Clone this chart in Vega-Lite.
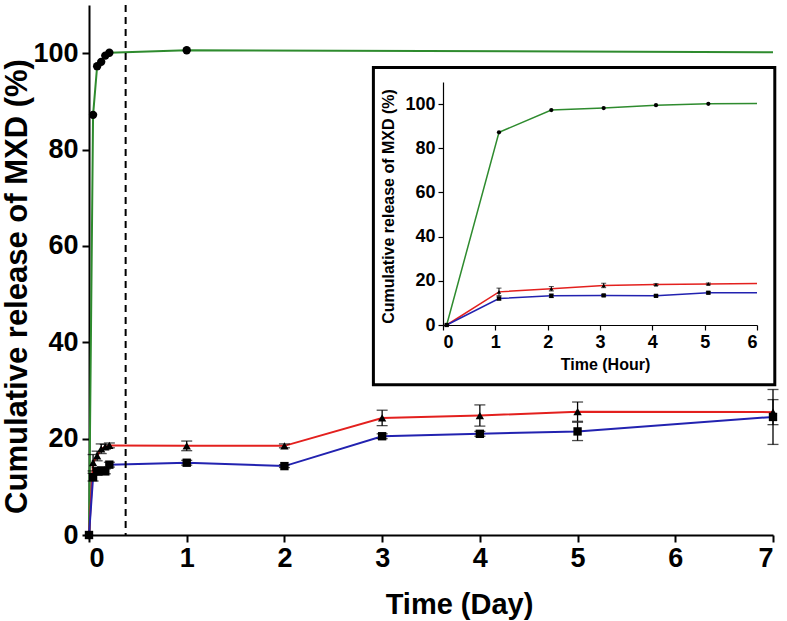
{
  "$schema": "https://vega.github.io/schema/vega-lite/v6.json",
  "width": 684,
  "height": 530,
  "autosize": {"type": "none"},
  "padding": {"left": 89, "top": 5, "right": 14, "bottom": 86},
  "background": "white",
  "config": {
    "view": {"stroke": null},
    "font": "Liberation Sans",
    "axis": {"grid": false, "domainColor": "black", "tickColor": "black", "labelColor": "black", "titleColor": "black", "labelFontWeight": "bold", "titleFontWeight": "bold", "format": "d"}
  },
  "datasets": {
    "main": [
      {"series": "green", "day": 0, "value": 0},
      {"series": "green", "day": 0.0417, "value": 87.2},
      {"series": "green", "day": 0.0833, "value": 97.3},
      {"series": "green", "day": 0.125, "value": 98.2},
      {"series": "green", "day": 0.1667, "value": 99.5},
      {"series": "green", "day": 0.2083, "value": 100.1},
      {"series": "green", "day": 1, "value": 100.6},
      {"series": "green", "day": 7, "value": 100.2},
      {"series": "red", "day": 0, "value": 0, "err": 0},
      {"series": "red", "day": 0.0417, "value": 15.0, "err": 1.7},
      {"series": "red", "day": 0.0833, "value": 16.4, "err": 1.0},
      {"series": "red", "day": 0.125, "value": 17.9, "err": 1.0},
      {"series": "red", "day": 0.1667, "value": 18.3, "err": 0.5},
      {"series": "red", "day": 0.2083, "value": 18.6, "err": 0.5},
      {"series": "red", "day": 1, "value": 18.5, "err": 1.0},
      {"series": "red", "day": 2, "value": 18.5, "err": 0.4},
      {"series": "red", "day": 3, "value": 24.3, "err": 1.6},
      {"series": "red", "day": 4, "value": 24.8, "err": 2.2},
      {"series": "red", "day": 5, "value": 25.6, "err": 2.0},
      {"series": "red", "day": 7, "value": 25.5, "err": 2.6},
      {"series": "blue", "day": 0, "value": 0, "err": 0},
      {"series": "blue", "day": 0.0417, "value": 12.0, "err": 0.8},
      {"series": "blue", "day": 0.0833, "value": 13.2, "err": 0.8},
      {"series": "blue", "day": 0.125, "value": 13.4, "err": 0.5},
      {"series": "blue", "day": 0.1667, "value": 13.2, "err": 0.5},
      {"series": "blue", "day": 0.2083, "value": 14.6, "err": 0.5},
      {"series": "blue", "day": 1, "value": 15.0, "err": 0.5},
      {"series": "blue", "day": 2, "value": 14.3, "err": 0.3},
      {"series": "blue", "day": 3, "value": 20.5, "err": 0.5},
      {"series": "blue", "day": 4, "value": 21.0, "err": 0.5},
      {"series": "blue", "day": 5, "value": 21.5, "err": 1.9},
      {"series": "blue", "day": 7, "value": 24.5, "err": 5.7}
    ],
    "inset": [
      {"series": "green", "hour": 0.07, "value": 0},
      {"series": "green", "hour": 1.07, "value": 87.2},
      {"series": "green", "hour": 2.07, "value": 97.3},
      {"series": "green", "hour": 3.07, "value": 98.2},
      {"series": "green", "hour": 4.07, "value": 99.5},
      {"series": "green", "hour": 5.07, "value": 100.1},
      {"series": "green", "hour": 6, "value": 100.3},
      {"series": "red", "hour": 0.07, "value": 0},
      {"series": "red", "hour": 1.07, "value": 15.0, "err": 1.7},
      {"series": "red", "hour": 2.07, "value": 16.4, "err": 1.0},
      {"series": "red", "hour": 3.07, "value": 17.9, "err": 1.0},
      {"series": "red", "hour": 4.07, "value": 18.3, "err": 0.4},
      {"series": "red", "hour": 5.07, "value": 18.6, "err": 0.4},
      {"series": "red", "hour": 6, "value": 18.8},
      {"series": "blue", "hour": 0.07, "value": 0},
      {"series": "blue", "hour": 1.07, "value": 12.0, "err": 0.7},
      {"series": "blue", "hour": 2.07, "value": 13.2, "err": 0.8},
      {"series": "blue", "hour": 3.07, "value": 13.4, "err": 0.4},
      {"series": "blue", "hour": 4.07, "value": 13.2, "err": 0.4},
      {"series": "blue", "hour": 5.07, "value": 14.6, "err": 0.5},
      {"series": "blue", "hour": 6, "value": 14.6}
    ],
    "cut": [{"day": 0.375}],
    "frame": [{"x1": -1.33, "x2": 6.34, "y1": -27.1, "y2": 116.6}]
  },
  "layer": [
    {
      "layer": [
        {
          "data": {"name": "main"},
          "mark": {"type": "line", "strokeWidth": 2},
          "encoding": {
            "x": {"field": "day", "type": "quantitative", "title": "Time (Day)",
              "scale": {"domain": [0, 7], "nice": false, "zero": false},
              "axis": {"values": [0,1,2,3,4,5,6,7], "format": "d", "domainWidth": 2, "tickWidth": 2, "tickSize": 7, "labelFontSize": 27, "labelPadding": 3, "titleFontSize": 29, "titleX": 370, "titleY": 78, "titleAlign": "center", "titleBaseline": "alphabetic"}},
            "y": {"field": "value", "type": "quantitative", "title": "Cumulative release of MXD (%)",
              "scale": {"domain": [0, 110], "nice": false},
              "axis": {"values": [0,20,40,60,80,100], "format": "d", "domainWidth": 2, "tickWidth": 2, "tickSize": 7, "labelFontSize": 27, "labelPadding": 4, "titleFontSize": 31, "titleX": -72, "titleY": 281, "titleAlign": "center", "titleBaseline": "middle", "titleAngle": -90}},
            "color": {"field": "series", "type": "nominal", "legend": null,
              "scale": {"domain": ["green", "red", "blue"], "range": ["#2e8b2e", "#e3201e", "#2222b0"]}},
            "order": {"field": "day", "type": "quantitative"}
          }
        },
        {
          "data": {"name": "cut"},
          "mark": {"type": "rule", "color": "black", "strokeWidth": 2, "strokeDash": [7, 5]},
          "encoding": {"x": {"field": "day", "type": "quantitative", "title": "Time (Day)"}}
        },
        {
          "data": {"name": "main"},
          "transform": [{"filter": "datum.err > 0"}],
          "mark": {"type": "errorbar", "color": "black", "thickness": 1.3, "ticks": {"size": 11}},
          "encoding": {
            "x": {"field": "day", "type": "quantitative", "title": "Time (Day)"},
            "y": {"field": "value", "type": "quantitative", "title": "Cumulative release of MXD (%)"},
            "yError": {"field": "err"}
          }
        },
        {
          "data": {"name": "main"},
          "transform": [{"filter": "!(datum.series == 'green' && datum.day == 7)"}],
          "mark": {"type": "point", "filled": true, "opacity": 1, "color": "black", "size": 70},
          "encoding": {
            "x": {"field": "day", "type": "quantitative", "title": "Time (Day)"},
            "y": {"field": "value", "type": "quantitative", "title": "Cumulative release of MXD (%)"},
            "shape": {"field": "series", "type": "nominal", "legend": null,
              "scale": {"domain": ["green", "red", "blue"], "range": ["circle", "triangle-up", "square"]}}
          }
        }
      ]
    },
    {
      "layer": [
        {
          "data": {"name": "frame"},
          "mark": {"type": "rect", "fill": "white", "stroke": "black", "strokeWidth": 3},
          "encoding": {
            "x": {"field": "x1", "type": "quantitative", "title": "Time (Hour)",
              "scale": {"domain": [0, 6], "range": [354, 668], "nice": false, "zero": false},
              "axis": {"orient": "bottom", "offset": -210, "zindex": 2, "values": [0,1,2,3,4,5,6], "format": "d", "domainWidth": 1.2, "tickWidth": 1.2, "tickSize": 5, "labelFontSize": 18, "labelPadding": 3, "titleFontSize": 16, "titleX": 516, "titleY": 44, "titleAlign": "center", "titleBaseline": "alphabetic"}},
            "x2": {"field": "x2"},
            "y": {"field": "y1", "type": "quantitative", "title": "Cumulative release of MXD (%)",
              "scale": {"domain": [0, 110], "range": [320, 77], "nice": false},
              "axis": {"orient": "left", "offset": -354, "zindex": 2, "values": [0,20,40,60,80,100], "format": "d", "domainWidth": 1.2, "tickWidth": 1.2, "tickSize": 5, "labelFontSize": 18, "labelPadding": 3, "titleFontSize": 16, "titleX": -55, "titleY": 201, "titleAlign": "center", "titleBaseline": "middle", "titleAngle": -90}},
            "y2": {"field": "y2"}
          }
        },
        {
          "data": {"name": "inset"},
          "mark": {"type": "line", "strokeWidth": 1.5},
          "encoding": {
            "x": {"field": "hour", "type": "quantitative", "title": "Time (Hour)"},
            "y": {"field": "value", "type": "quantitative", "title": "Cumulative release of MXD (%)"},
            "color": {"field": "series", "type": "nominal", "legend": null,
              "scale": {"domain": ["green", "red", "blue"], "range": ["#2e8b2e", "#e3201e", "#2222b0"]}}
          }
        },
        {
          "data": {"name": "inset"},
          "transform": [{"filter": "datum.err > 0"}],
          "mark": {"type": "errorbar", "color": "black", "thickness": 1, "ticks": {"size": 5}},
          "encoding": {
            "x": {"field": "hour", "type": "quantitative", "title": "Time (Hour)"},
            "y": {"field": "value", "type": "quantitative", "title": "Cumulative release of MXD (%)"},
            "yError": {"field": "err"}
          }
        },
        {
          "data": {"name": "inset"},
          "transform": [{"filter": "datum.hour < 6"}],
          "mark": {"type": "point", "filled": true, "opacity": 1, "color": "black", "size": 18},
          "encoding": {
            "x": {"field": "hour", "type": "quantitative", "title": "Time (Hour)"},
            "y": {"field": "value", "type": "quantitative", "title": "Cumulative release of MXD (%)"},
            "shape": {"field": "series", "type": "nominal", "legend": null,
              "scale": {"domain": ["green", "red", "blue"], "range": ["circle", "triangle-up", "square"]}}
          }
        }
      ]
    }
  ],
  "resolve": {"scale": {"x": "independent", "y": "independent", "color": "independent", "shape": "independent"}}
}
